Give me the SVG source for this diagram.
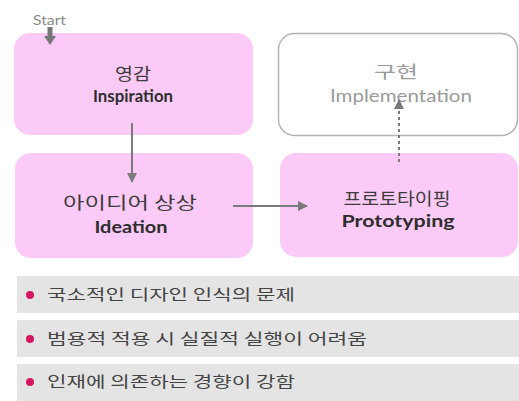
<svg xmlns="http://www.w3.org/2000/svg" width="519" height="401" viewBox="0 0 519 401">
<defs>
<style>
.box{fill:#fbcaf7;}
.impl{fill:#ffffff;stroke:#b3b3b3;stroke-width:1.5;}
.ko{font-family:"Noto Sans CJK KR","Noto Sans",sans-serif;font-size:17px;fill:#3c3c3c;text-anchor:middle;}
.en{font-family:Lato,"Open Sans",sans-serif;font-size:17px;font-weight:bold;fill:#2e2e2e;text-anchor:middle;}
.gray{fill:#9a9a9a;font-weight:normal;}
.bar{fill:#e4e4e4;}
.bt{font-family:"Noto Sans CJK KR","Noto Sans",sans-serif;font-size:15px;fill:#444;}
.dot{fill:#d6165f;}
.conn{stroke:#7a7a7a;stroke-width:2;fill:none;}
</style>
<marker id="ah" viewBox="0 0 10 10" refX="9" refY="5" markerWidth="5" markerHeight="5" orient="auto" markerUnits="strokeWidth">
<path d="M0,0 L10,5 L0,10 z" fill="#7a7a7a"/>
</marker>
</defs>
<rect width="519" height="401" fill="#ffffff"/>

<g id="node-inspiration">
<rect class="box" x="14" y="33" width="239" height="102" rx="16"/>
<text class="ko" x="133" y="80" textLength="36" lengthAdjust="spacingAndGlyphs">영감</text>
<text class="en" x="133" y="102" textLength="80" lengthAdjust="spacingAndGlyphs">Inspiration</text>
</g>

<g id="node-implementation">
<rect class="impl" x="278.5" y="33.5" width="239" height="102" rx="16"/>
<text class="ko gray" x="396" y="78" textLength="44" lengthAdjust="spacingAndGlyphs">구현</text>
<text class="en gray" x="401" y="102" textLength="142" lengthAdjust="spacingAndGlyphs">Implementation</text>
</g>

<g id="node-ideation">
<rect class="box" x="15" y="153" width="238" height="105" rx="16"/>
<text class="ko" x="130" y="209" textLength="134" lengthAdjust="spacingAndGlyphs">아이디어 상상</text>
<text class="en" x="131" y="233" textLength="73" lengthAdjust="spacingAndGlyphs">Ideation</text>
</g>

<g id="node-prototyping">
<rect class="box" x="280" y="153" width="238" height="104" rx="16"/>
<text class="ko" x="397" y="205" textLength="107" lengthAdjust="spacingAndGlyphs">프로토타이핑</text>
<text class="en" x="398" y="227" textLength="113" lengthAdjust="spacingAndGlyphs">Prototyping</text>
</g>

<g id="start">
<text x="33" y="25" font-family="Lato,'Open Sans',sans-serif" font-size="13" fill="#8a8a8a" textLength="33" lengthAdjust="spacingAndGlyphs">Start</text>
</g>

<g id="connectors">
<path d="M50,27 L50,37" stroke="#777" stroke-width="5"/>
<path d="M44,36 L56,36 L50,45 z" fill="#777"/>
<line class="conn" x1="132" y1="123" x2="132" y2="182" marker-end="url(#ah)"/>
<line class="conn" x1="233" y1="206" x2="307" y2="206" marker-end="url(#ah)"/>
<line class="conn" x1="399" y1="162" x2="399" y2="100" stroke-dasharray="3,3" marker-end="url(#ah)"/>
</g>

<g id="list">
<rect class="bar" x="17" y="276" width="502" height="37"/>
<rect class="bar" x="17" y="320" width="502" height="37"/>
<rect class="bar" x="17" y="364" width="502" height="37"/>
<circle class="dot" cx="30" cy="295" r="4"/>
<circle class="dot" cx="30" cy="339" r="4"/>
<circle class="dot" cx="30" cy="382" r="4"/>
<text class="bt" x="47" y="300" textLength="248" lengthAdjust="spacingAndGlyphs">국소적인 디자인 인식의 문제</text>
<text class="bt" x="47" y="344" textLength="320" lengthAdjust="spacingAndGlyphs">범용적 적용 시 실질적 실행이 어려움</text>
<text class="bt" x="47" y="387" textLength="248" lengthAdjust="spacingAndGlyphs">인재에 의존하는 경향이 강함</text>
</g>
</svg>
